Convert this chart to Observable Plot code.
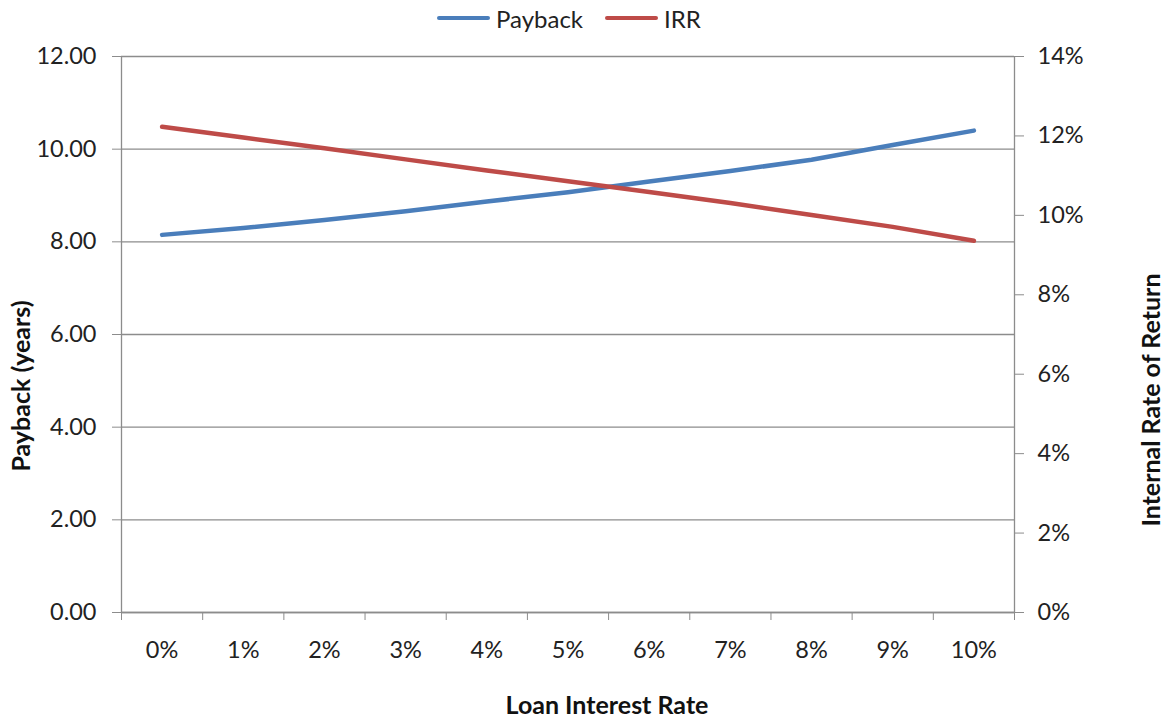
<!DOCTYPE html>
<html>
<head>
<meta charset="utf-8">
<script src="https://cdn.jsdelivr.net/npm/d3@7"></script>
<script src="https://cdn.jsdelivr.net/npm/@observablehq/plot@0.6"></script>
<style>
  body { margin: 0; background: #fff; font-family: Lato, "Open Sans", sans-serif; }
  #wrap { position: relative; width: 1168px; height: 719px; overflow: hidden; }
  #legend { position: absolute; top: 0; left: 0; width: 1168px; height: 36px; }
  .item { position: absolute; top: 3px; display: flex; align-items: center; font-size: 24px; color: #222; height: 30px; }
  .sw { width: 53px; height: 4px; border-radius: 2px; margin-right: 6px; }
  #chart { position: absolute; top: 36px; left: 0; }
  .title { position: absolute; font-weight: bold; font-size: 25px; line-height: 1; color: #111; white-space: nowrap; transform: translate(-50%, -50%); }
  .rot { transform: translate(-50%, -50%) rotate(-90deg); }
</style>
</head>
<body>
<div id="wrap">
  <div id="legend">
    <div class="item" style="left:437px"><div class="sw" style="background:#4A7EBB"></div><span id="lg0"></span></div>
    <div class="item" style="left:605px"><div class="sw" style="background:#BE4B48"></div><span id="lg1"></span></div>
  </div>
  <div id="chart"></div>
  <div class="title rot" id="ytitle" style="left:20px; top:386px;"></div>
  <div class="title rot" id="y2title" style="left:1150px; top:400px;"></div>
  <div class="title" id="xtitle" style="left:607px; top:704px;"></div>
</div>
<script>
const rates = ["0%", "1%", "2%", "3%", "4%", "5%", "6%", "7%", "8%", "9%", "10%"];
const payback = [8.15, 8.30, 8.47, 8.66, 8.87, 9.07, 9.30, 9.53, 9.77, 10.09, 10.40];
const irr = [12.23, 11.96, 11.69, 11.41, 11.13, 10.86, 10.59, 10.31, 10.01, 9.71, 9.36];
const leftTicks = [0, 2, 4, 6, 8, 10, 12];
const rightTicks = [0, 2, 4, 6, 8, 10, 12, 14];
const seriesNames = ["Payback", "IRR"];
const titles = {x: "Loan Interest Rate", y: "Payback (years)", y2: "Internal Rate of Return"};
const leftMax = 12, rightMax = 14;

document.getElementById("lg0").textContent = seriesNames[0];
document.getElementById("lg1").textContent = seriesNames[1];
document.getElementById("ytitle").textContent = titles.y;
document.getElementById("y2title").textContent = titles.y2;
document.getElementById("xtitle").textContent = titles.x;

const rows = rates.map((r, i) => ({i, rate: r, payback: payback[i], irr: irr[i]}));
const toLeft = v => v * leftMax / rightMax;
const gray = "#8c8c8c";

const chart = Plot.plot({
  width: 1168,
  height: 683,
  marginTop: 20,
  marginBottom: 107,
  marginLeft: 121,
  marginRight: 154,
  style: {fontFamily: "Lato, 'Open Sans', sans-serif", fontSize: "23.5px", color: "#222", background: "#fff"},
  x: {type: "linear", domain: [-0.5, rates.length - 0.5]},
  y: {type: "linear", domain: [0, leftMax]},
  marks: [
    Plot.gridY(leftTicks, {stroke: gray, strokeOpacity: 1, strokeWidth: 1.3}),
    Plot.ruleX([-0.5, rates.length - 0.5], {stroke: gray, strokeWidth: 1.3}),
    Plot.ruleY([0], {stroke: gray, strokeWidth: 1.3}),
    Plot.axisY({ticks: leftTicks, tickFormat: d3.format(".2f"), tickSize: 9, tickPadding: 16, stroke: gray, label: null, anchor: "left"}),
    Plot.axisY({ticks: rightTicks.map(toLeft), tickFormat: d => Math.round(d * rightMax / leftMax) + "%", tickSize: 9, tickPadding: 14, stroke: gray, label: null, anchor: "right"}),
    Plot.axisX({ticks: d3.range(-0.5, rates.length, 1), tickFormat: () => "", tickSize: 8, stroke: gray, label: null, anchor: "bottom"}),
    Plot.axisX({ticks: d3.range(0, rates.length), tickFormat: i => rates[i], tickSize: 0, tickPadding: 29, label: null, anchor: "bottom"}),
    Plot.line(rows, {x: "i", y: "payback", stroke: "#4A7EBB", strokeWidth: 4.5, strokeLinecap: "round"}),
    Plot.line(rows, {x: "i", y: d => toLeft(d.irr), stroke: "#BE4B48", strokeWidth: 4.5, strokeLinecap: "round"})
  ]
});
document.getElementById("chart").appendChild(chart);
</script>
</body>
</html>
